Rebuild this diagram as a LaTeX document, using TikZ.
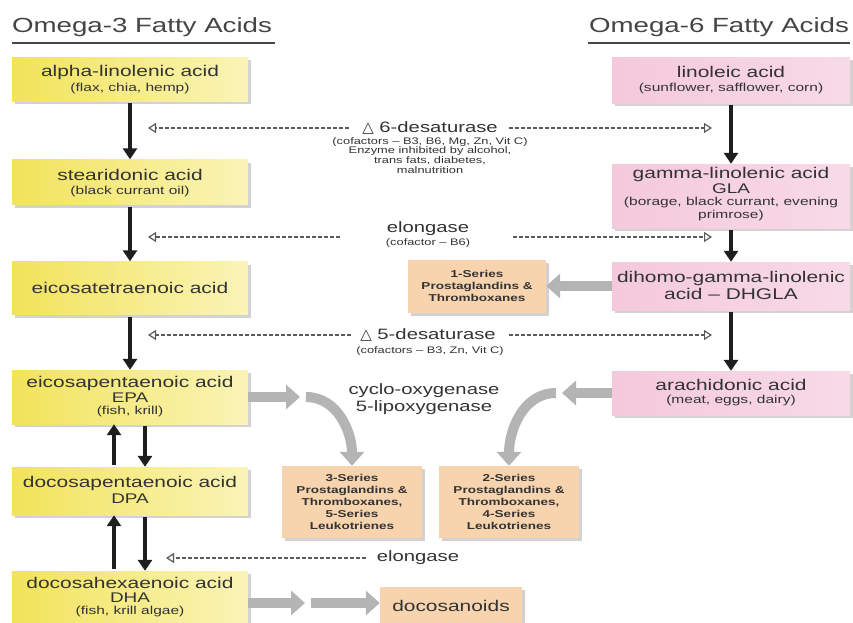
\documentclass[tikz,border=0pt]{standalone}
\usepackage{fontspec}
\setmainfont[FakeStretch=1.35]{Liberation Sans}
\newfontfamily\dvfont{DejaVu Sans}
\usetikzlibrary{arrows.meta,shadows,calc}
\definecolor{txt}{HTML}{333333}
\definecolor{ttl}{HTML}{454545}
\definecolor{yl}{HTML}{F2E35A}
\definecolor{yr}{HTML}{FAF4B8}
\definecolor{pl}{HTML}{F4C9DC}
\definecolor{pr}{HTML}{F8DAE7}
\definecolor{orb}{HTML}{F8D4AE}
\definecolor{grf}{HTML}{B4B4B4}
\definecolor{dsc}{HTML}{5A5A5A}
\definecolor{blk}{HTML}{1E1E1E}
\renewcommand{\arraystretch}{0.9}
\newcommand{\mainsz}{\fontsize{15.5}{15}\selectfont}
\newcommand{\subsz}{\fontsize{11.5}{12}\selectfont}
\newcommand{\midsz}{\fontsize{14}{14}\selectfont}
\newcommand{\smallsz}{\fontsize{9.5}{10.7}\selectfont}
\newcommand{\enzsz}{\fontsize{15}{17}\selectfont}
\newcommand{\orsz}{\fontsize{10}{12}\selectfont\bfseries}
\newcommand{\ttlsz}{\fontsize{20.5}{22}\selectfont}
\newcommand{\stk}[1]{\begin{tabular}{@{}c@{}}#1\end{tabular}}
\begin{document}
\begin{tikzpicture}[x=1pt,y=-1pt,
  every node/.style={text=txt, inner sep=1pt},
  box/.style={drop shadow={shadow xshift=3pt, shadow yshift=-3pt, opacity=0.35}},
  ybox/.style={box, minimum width=236pt, left color=yl, right color=yr},
  pbox/.style={box, minimum width=238pt, left color=pl, right color=pr},
  mainl/.style={font=\mainsz},
  midl/.style={font=\midsz},
  subl/.style={font=\subsz},
  obox/.style={box, align=center, fill=orb, font=\orsz},
  ttlnode/.style={text=ttl, font=\ttlsz},
  blkarrow/.style={draw=blk, line width=3.4pt, shorten <=2pt, -{Triangle[length=11pt,width=14pt]}},
  dsh/.style={draw=dsc, line width=1.6pt, dash pattern=on 4pt off 2pt, -{Triangle[open,length=8pt,width=10pt,line width=1.2pt]}},
  fat/.style={draw=grf, line width=10pt, -{Triangle[length=14pt,width=24pt]}},
  uline/.style={draw=ttl, line width=2.5pt}
]
\fill[white] (0,0) rectangle (853,622);
\useasboundingbox (0,0) rectangle (853,622);

% titles
\node[ttlnode] (T3) at (142,27) {Omega-3 Fatty Acids};
\node[ttlnode] (T6) at (719,27) {Omega-6 Fatty Acids};
\coordinate (u1a) at (12,43); \coordinate (u1b) at (275,43);
\coordinate (u2a) at (588,43); \coordinate (u2b) at (850,43);
\draw[uline] (u1a) -- (u1b);
\draw[uline] (u2a) -- (u2b);

% omega-3 column
\node[ybox, minimum height=44pt] (A1) at (130,79) {};
\node[mainl] (A1a) at (130,72) {alpha-linolenic acid};
\node[subl] (A1b) at (130,89) {(flax, chia, hemp)};
\node[ybox, minimum height=45pt] (A2) at (130,182) {};
\node[mainl] (A2a) at (130,175) {stearidonic acid};
\node[subl] (A2b) at (130,192) {(black currant oil)};
\node[ybox, minimum height=53pt] (A3) at (130,288) {};
\node[mainl] (A3a) at (A3) {eicosatetraenoic acid};
\node[ybox, minimum height=54pt] (A4) at (130,397) {};
\node[mainl] (A4a) at (130,383) {eicosapentaenoic acid};
\node[midl] (A4b) at (130,398) {EPA};
\node[subl] (A4c) at (130,412) {(fish, krill)};
\node[ybox, minimum height=48pt] (A5) at (130,491) {};
\node[mainl] (A5a) at (130,483) {docosapentaenoic acid};
\node[midl] (A5b) at (130,499) {DPA};
\node[ybox, minimum height=54pt] (A6) at (130,598) {};
\node[mainl] (A6a) at (130,583) {docosahexaenoic acid};
\node[midl] (A6b) at (130,598) {DHA};
\node[subl] (A6c) at (130,612) {(fish, krill algae)};

% omega-6 column
\node[pbox, minimum height=46pt] (B1) at (731,80) {};
\node[mainl] (B1a) at (731,72) {linoleic acid};
\node[subl] (B1b) at (731,89) {(sunflower, safflower, corn)};
\node[pbox, minimum height=64pt] (B2) at (731,196) {};
\node[mainl] (B2a) at (731,174) {gamma-linolenic acid};
\node[midl] (B2b) at (731,189) {GLA};
\node[subl] (B2c) at (731,203) {(borage, black currant, evening};
\node[subl] (B2d) at (731,216) {primrose)};
\node[pbox, minimum height=48pt] (B3) at (731,286) {};
\node[mainl] (B3a) at (731,278) {dihomo-gamma-linolenic};
\node[mainl] (B3b) at (731,294) {acid -- DHGLA};
\node[pbox, minimum height=44pt] (B4) at (731,393) {};
\node[mainl] (B4a) at (731,385) {arachidonic acid};
\node[subl] (B4b) at (731,401) {(meat, eggs, dairy)};

% eicosanoid boxes
\node[obox, minimum width=138pt, minimum height=53pt] (C1) at (477,286) {1-Series\\Prostaglandins \&\\Thromboxanes};
\node[obox, minimum width=140pt, minimum height=72pt] (C3) at (352,502) {3-Series\\Prostaglandins \&\\Thromboxanes,\\5-Series\\Leukotrienes};
\node[obox, minimum width=140pt, minimum height=72pt] (C2) at (509,502) {2-Series\\Prostaglandins \&\\Thromboxanes,\\4-Series\\Leukotrienes};
\node[box, fill=orb, font=\mainsz, minimum width=142pt, minimum height=38pt] (C4) at (451,606) {docosanoids};

% enzyme labels
\node (E1) at (430,128) {\enzsz{\dvfont △} 6-desaturase};
\node[anchor=north, font=\smallsz] (E1s) at (430,136) {\stk{(cofactors -- B3, B6, Mg, Zn, Vit C)\\Enzyme inhibited by alcohol,\\trans fats, diabetes,\\malnutrition}};
\node[font=\enzsz] (E2) at (428,229) {elongase};
\node[font=\smallsz] (E2s) at (428,243) {(cofactor -- B6)};
\node (E3) at (428,335) {\enzsz{\dvfont △} 5-desaturase};
\node[font=\smallsz] (E3s) at (430,351) {(cofactors -- B3, Zn, Vit C)};
\node[align=center, font=\enzsz] (E4) at (424,399) {cyclo-oxygenase\\5-lipoxygenase};
\node[font=\enzsz] (E5) at (418,558) {elongase};

% black conversion arrows
\draw[blkarrow] (A1) -- (A2);
\draw[blkarrow] (A2) -- (A3);
\draw[blkarrow] (A3) -- (A4);
\draw[blkarrow] ([xshift=-16pt]A5.north) -- ([xshift=-16pt]A4.south);
\draw[blkarrow] ([xshift=15pt]A4.south) -- ([xshift=15pt]A5.north);
\draw[blkarrow] ([xshift=-16pt]A6.north) -- ([xshift=-16pt]A5.south);
\draw[blkarrow] ([xshift=15pt]A5.south) -- ([xshift=15pt]A6.north);
\draw[blkarrow] (B1) -- (B2);
\draw[blkarrow] (B2) -- (B3);
\draw[blkarrow] (B3) -- (B4);

% dashed enzyme arrows
\coordinate (L1) at (148,128); \coordinate (R1) at (712,128);
\draw[dsh] ([xshift=-12pt]E1.west) -- (L1);
\draw[dsh] ([xshift=10pt]E1.east) -- (R1);
\coordinate (L2s) at (340,237); \coordinate (L2) at (148,237);
\coordinate (R2s) at (513,237); \coordinate (R2) at (712,237);
\draw[dsh] (L2s) -- (L2);
\draw[dsh] (R2s) -- (R2);
\coordinate (L3) at (148,335); \coordinate (R3) at (712,335);
\draw[dsh] ([xshift=-8pt]E3.west) -- (L3);
\draw[dsh] ([xshift=12pt]E3.east) -- (R3);
\coordinate (L5) at (166,558);
\draw[dsh] ([xshift=-10pt]E5.west) -- (L5);

% grey eicosanoid arrows
\coordinate (f1) at (300,397); \coordinate (f2) at (306,397);
\draw[fat] (A4) -- (f1);
\draw[fat] (f2) to[out=0,in=90] (C3.north);
\coordinate (f3) at (562,393); \coordinate (f4) at (556,393);
\draw[fat] (B4) -- (f3);
\draw[fat] (f4) to[out=180,in=90] (C2.north);
\draw[fat] (B3) -- (C1);
\coordinate (f5) at (305,603); \coordinate (f6) at (311,603);
\draw[fat] (A6.east |- f5) -- (f5);
\draw[fat] (f6) -- (C4.west |- f6);
\end{tikzpicture}
\end{document}
